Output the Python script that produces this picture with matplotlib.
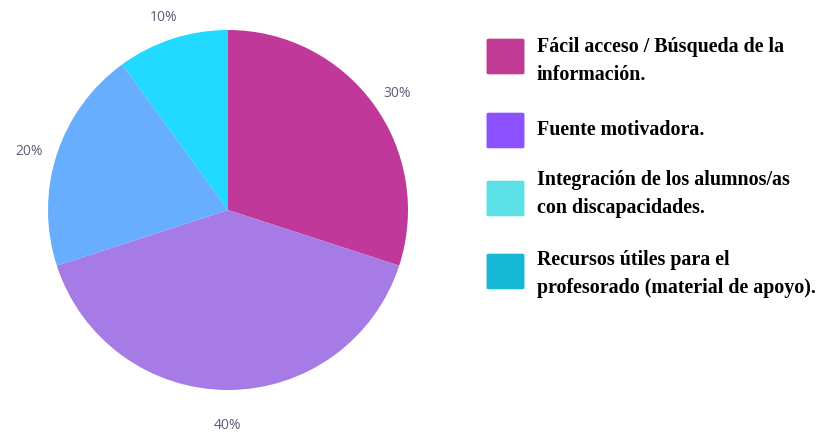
import matplotlib
matplotlib.use("Agg")
import matplotlib.pyplot as plt
from matplotlib.patches import FancyBboxPatch

# datos del grafico
valores = [30, 40, 20, 10]
colores_pie = ["#C0399A", "#A67BE5", "#68AEFF", "#22D9FF"]
etiquetas = [
    "Fácil acceso / Búsqueda de la\ninformación.",
    "Fuente motivadora.",
    "Integración de los alumnos/as\ncon discapacidades.",
    "Recursos útiles para el\nprofesorado (material de apoyo).",
]
colores_leyenda = ["#C13A94", "#8C52FF", "#5CE1E6", "#17B7D6"]

W, H = 820, 434
fig = plt.figure(figsize=(W / 100, H / 100), dpi=100)

# pie: centro (228, 210) px, radio 180 px
cx, cy, r = 228, 210, 180
ax = fig.add_axes([(cx - r) / W, (H - cy - r) / H, 2 * r / W, 2 * r / H])
wedges, textos, autotextos = ax.pie(valores, colors=colores_pie, startangle=90,
                                    counterclock=False, radius=1,
                                    autopct="%d%%", pctdistance=1.16,
                                    wedgeprops=dict(linewidth=0),
                                    textprops=dict(color="#5B5F77", fontsize=10,
                                                   family="Open Sans"))
for t in autotextos:
    x, y = t.get_position()
    t.set_position((x, y - 0.035))
ax.set_xlim(-1, 1)
ax.set_ylim(-1, 1)
ax.set_aspect("equal")
ax.axis("off")

# leyenda dibujada a mano
cajas_y = [38, 112, 180, 253]
bases_y = [52, 135, 185, 265]
for i, (txt, col) in enumerate(zip(etiquetas, colores_leyenda)):
    y0 = cajas_y[i]
    caja = FancyBboxPatch(((487 + 2) / W, (H - y0 - 37 + 2) / H),
                          33 / W, 33 / H,
                          boxstyle="round,pad=0.003",
                          transform=fig.transFigure, facecolor=col,
                          edgecolor="none")
    fig.patches.append(caja)
    for j, linea in enumerate(txt.split("\n")):
        fig.text(537 / W, (H - bases_y[i] - 28 * j) / H, linea,
                 ha="left", va="baseline", fontsize=14.4,
                 family="Liberation Serif", weight="bold", color="#000000")

fig.savefig("out.png", dpi=100)
